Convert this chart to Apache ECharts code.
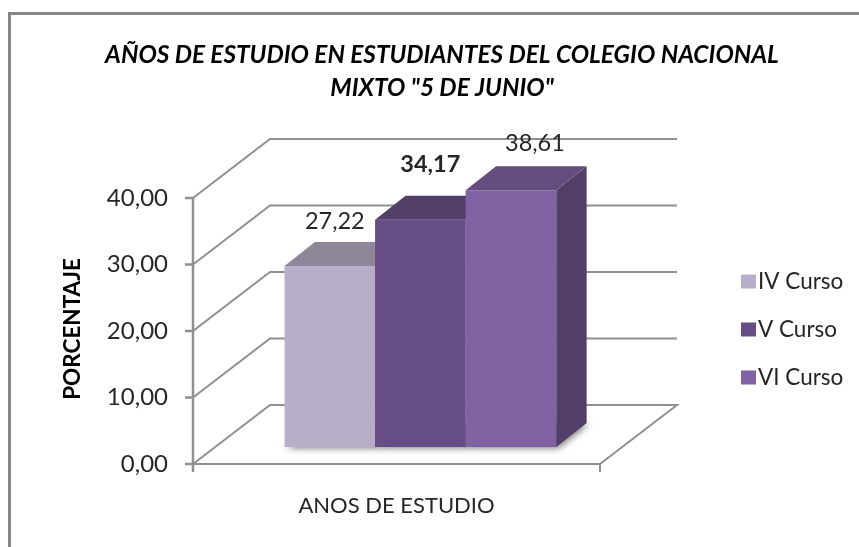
<!DOCTYPE html>
<html><head><meta charset="utf-8">
<style>html,body{margin:0;padding:0;background:#fff}#c{width:859px;height:547px}</style>
<script src="https://cdn.jsdelivr.net/npm/echarts@6/dist/echarts.min.js"></script>
</head><body><div id="c"></div>
<script>
const categories = ["ANOS DE ESTUDIO"];
const seriesNames = ["IV Curso", "V Curso", "VI Curso"];
const ivCurso = [27.22];
const vCurso = [34.17];
const viCurso = [38.61];
const yTicks = [0, 10, 20, 30, 40];
const titleLines = 'AÑOS DE ESTUDIO EN ESTUDIANTES DEL COLEGIO NACIONAL\nMIXTO "5 DE JUNIO"';
const yName = "PORCENTAJE";

const FONT = "Lato";
const WALL = {dx: 77, dy: -59};
const NEAR_X = 0.31, FAR_X = 0.705, NEAR_Y = 0.288, FAR_Y = 0.695;
const BAR_W = 0.2225;
const TICK = 8;
const faces = [
  {front:"#B8AECA", top:"#8F8799", side:"#8F8799"},
  {front:"#664E84", top:"#523F68", side:"#523F68"},
  {front:"#8061A1", top:"#644C7E", side:"#523F67"}
];
const labelShift = [[5,-45],[10,-55],[24,-47]];
const comma = v => v.toFixed(2).replace(".", ",");
const lineStyle = (w) => ({stroke:"#909090", lineWidth:w, fill:"none"});

function wallItem(params, api){
  const c = params.coordSys;
  const p = api.coord([api.value(0), api.value(1)]);
  const y = p[1], L = c.x, R = c.x + c.width;
  const pts = [[L,y],[L+WALL.dx,y+WALL.dy],[R+WALL.dx,y+WALL.dy]];
  if (api.value(1) === 0) pts.push([R,y]);
  const kids = [
    {type:"polyline", shape:{points:pts}, style:lineStyle(2)},
    {type:"polyline", shape:{points:[[L-TICK,y],[L,y]]}, style:lineStyle(2.5)}
  ];
  if (api.value(1) === 0) {
    const top = api.coord([api.value(0), Math.max(...yTicks)])[1];
    kids.push({type:"polyline", shape:{points:[[L,top],[L,y+TICK]]}, style:lineStyle(2.5)});
  }
  return {type:"group", children:kids};
}
function barItem(idx){
  return function(params, api){
    const center = api.coord([api.value(0), 0])[0];
    const band = api.size([1,0])[0];
    const base = api.coord([api.value(0), 0])[1];
    const topY = api.coord([api.value(0), api.value(1)])[1];
    const w = band*BAR_W;
    const x0 = center - w*1.5 + w*idx + WALL.dx*NEAR_X;
    const x1 = x0 + w;
    const off = -WALL.dy*NEAR_Y;
    const y0 = base - off, y1 = topY - off;
    const ddx = WALL.dx*(FAR_X-NEAR_X), ddy = WALL.dy*(FAR_Y-NEAR_Y);
    const f = faces[idx];
    const kids = [];
    kids.push({type:"polygon", shape:{points:[[x0,y0],[x1,y0],[x1+ddx,y0+ddy],[x0+ddx,y0+ddy]]},
      style:{fill:"#8a8a8a", shadowBlur:7, shadowColor:"rgba(0,0,0,0.55)", shadowOffsetX:2, shadowOffsetY:1}});
    kids.push({type:"polygon", shape:{points:[[x1,y0],[x1+ddx,y0+ddy],[x1+ddx,y1+ddy],[x1,y1]]}, style:{fill:f.side}});
    kids.push({type:"polygon", shape:{points:[[x0,y1],[x1,y1],[x1+ddx,y1+ddy],[x0+ddx,y1+ddy]]}, style:{fill:f.top}});
    kids.push({type:"rect", shape:{x:x0,y:y1,width:w,height:y0-y1}, style:{fill:f.front}});
    kids.push({type:"text", z2:50, style:{
      text: comma(api.value(1)), x:(x0+x1)/2+labelShift[idx][0], y:y1+labelShift[idx][1],
      align:"center", verticalAlign:"middle", fill:"#262626",
      font:(idx===1?"bold ":"")+"23.5px "+FONT}});
    return {type:"group", children:kids};
  };
}
function barSeries(name, values, idx){
  return {name, type:"custom", z:3+idx, renderItem:barItem(idx),
    itemStyle:{color:faces[idx].front},
    encode:{x:0,y:1}, data:values.map((v,i)=>[i,v])};
}
const chart = echarts.init(document.getElementById("c"), null, {renderer:"canvas"});
chart.setOption({
  animation:false,
  backgroundColor:"#fff",
  title:{text:titleLines, left:437, top:34, textAlign:"center",
    textStyle:{fontFamily:FONT, fontSize:24.4, fontWeight:"bold", fontStyle:"italic", color:"#000", lineHeight:33}},
  legend:{data:seriesNames, orient:"vertical", left:736, top:265, itemWidth:15, itemHeight:14, itemGap:25,
    icon:"rect", itemStyle:{borderWidth:0}, textStyle:{fontFamily:FONT, fontSize:22.5, color:"#262626", padding:[0,0,0,-3]}},
  grid:{left:193, top:198, width:407, height:266},
  xAxis:{type:"category", data:categories,
    axisLine:{lineStyle:{color:"#909090", width:2}},
    axisTick:{show:true, length:8, lineStyle:{color:"#909090", width:2}},
    axisLabel:{fontFamily:FONT, fontSize:22, color:"#262626", margin:31}},
  yAxis:{type:"value", min:0, max:40, interval:10, name:yName, nameLocation:"middle", nameRotate:90, nameGap:109,
    nameTextStyle:{fontFamily:FONT, fontSize:22.5, fontWeight:"bold", color:"#000", padding:[0,0,0,4]},
    axisLine:{show:false},
    axisTick:{show:false},
    splitLine:{show:false},
    axisLabel:{fontFamily:FONT, fontSize:24, color:"#262626", margin:25, formatter:comma}},
  graphic:[{type:"polyline", silent:true, z:-1, shape:{points:[[9.5,547],[9.5,13.5],[859,13.5]]},
    style:{fill:"none", stroke:"#868686", lineWidth:3}}],
  series:[
    {name:"muro", type:"custom", z:1, renderItem:wallItem, encode:{x:0,y:1}, data:yTicks.map(t=>[0,t]), silent:true},
    barSeries(seriesNames[0], ivCurso, 0),
    barSeries(seriesNames[1], vCurso, 1),
    barSeries(seriesNames[2], viCurso, 2)
  ]
});
</script></body></html>
